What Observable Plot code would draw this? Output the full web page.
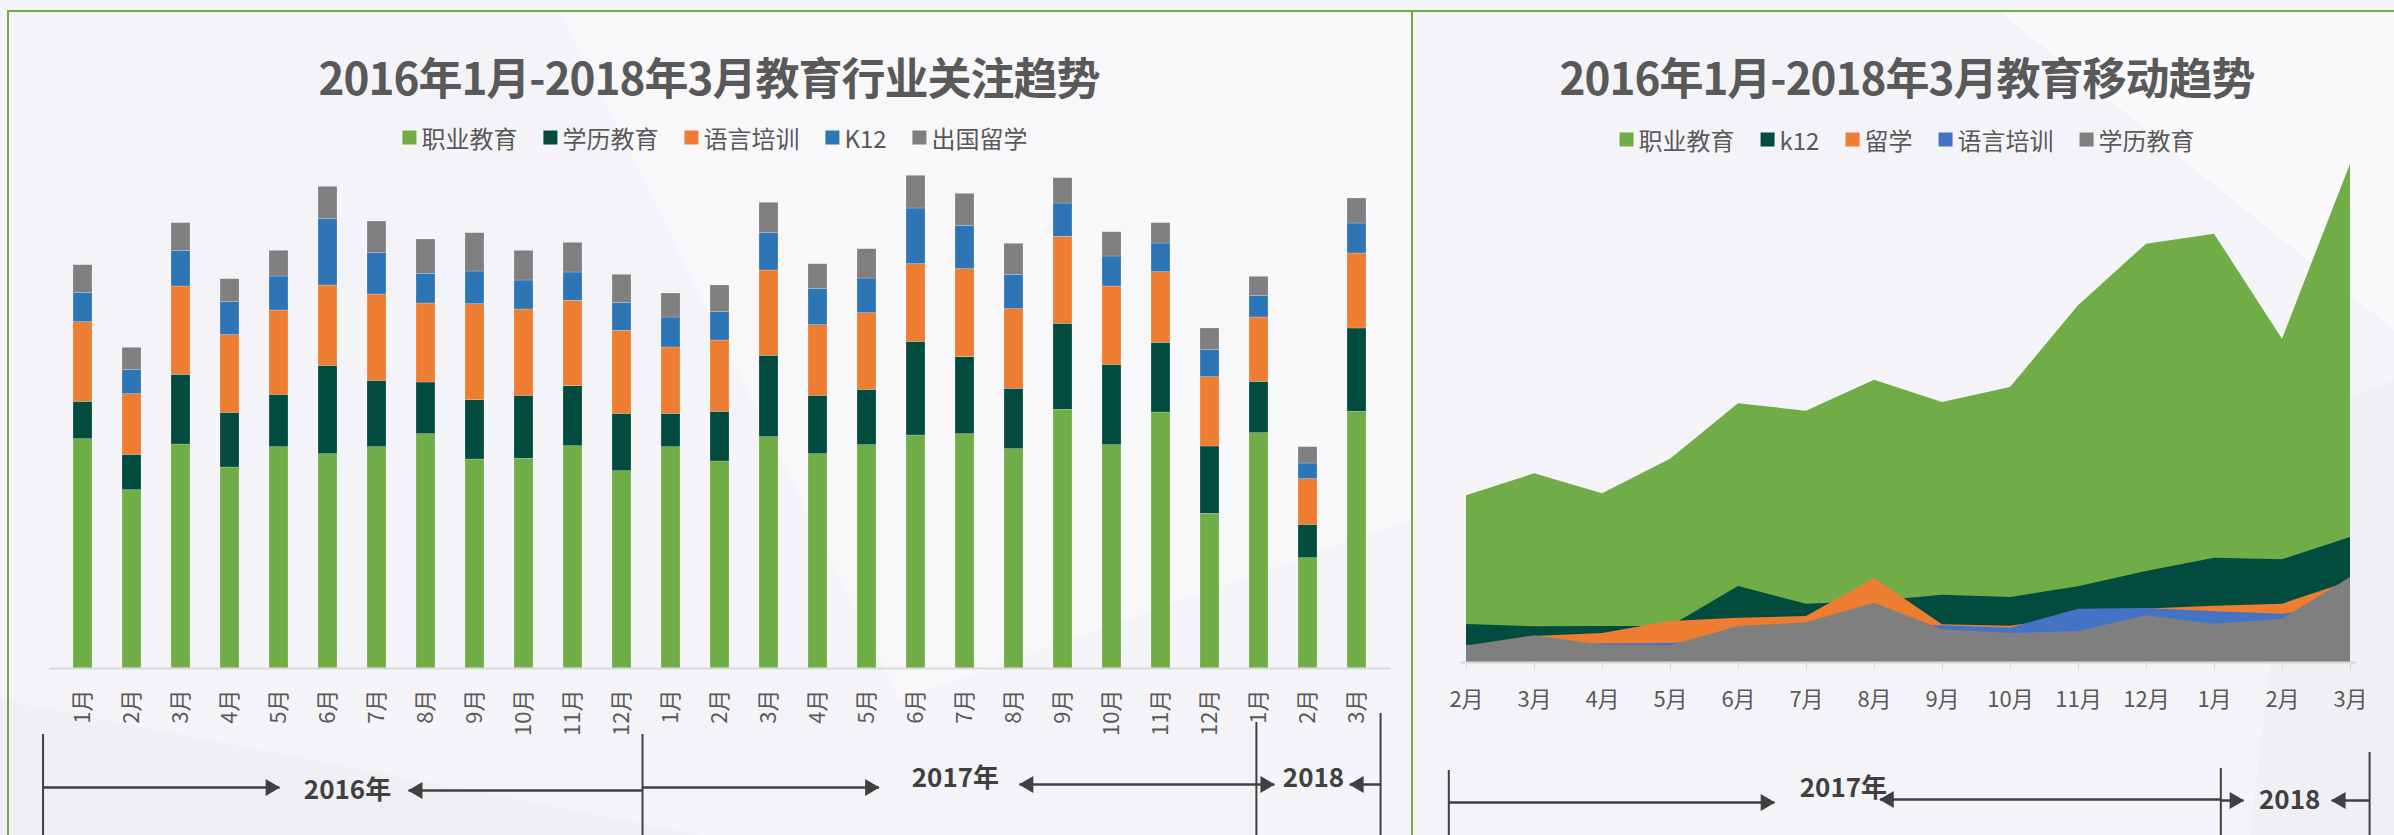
<!DOCTYPE html>
<html>
<head>
<meta charset="utf-8">
<script src="https://cdn.jsdelivr.net/npm/d3@7"></script>
<script src="https://cdn.jsdelivr.net/npm/@observablehq/plot@0.6"></script>
<style>
  html, body { margin: 0; padding: 0; }
  body { width: 2394px; height: 835px; overflow: hidden; font-family: "Noto Sans CJK SC", "Noto Sans", sans-serif; }
  #root { position: relative; width: 2394px; height: 835px; background: #f4f4f8; overflow: hidden; }
  .abs { position: absolute; }
  .title { position: absolute; transform: translate(-50%, -50%); font-size: 44px; font-weight: 700; color: #595959; white-space: nowrap; letter-spacing: -1px; }
  .legend { position: absolute; transform: translate(-50%, -50%); display: flex; align-items: center; gap: 26px; font-size: 24px; color: #595959; white-space: nowrap; }
  .legend .item { display: flex; align-items: center; }
  .legend .sw { width: 14px; height: 14px; margin-right: 5px; }
  .border-top { position: absolute; left: 7px; top: 10px; width: 2387px; height: 2px; background: #70ad47; }
  .border-v { position: absolute; top: 10px; width: 2px; height: 825px; background: #70ad47; }
</style>
</head>
<body>
<div id="root">
  <svg class="abs" style="left:0;top:0" width="2394" height="835">
    <polygon points="560,12 1410,12 1410,520 900,700" fill="#ffffff" opacity="0.35"></polygon>
    <polygon points="0,700 700,835 0,835" fill="#e9e9ef" opacity="0.5"></polygon>
    <polygon points="2000,12 2394,12 2394,330" fill="#ffffff" opacity="0.5"></polygon>
    <polygon points="2300,420 2394,380 2394,835 2250,835" fill="#e9e9ef" opacity="0.45"></polygon>
  </svg>
  <div class="border-top"></div>
  <div class="border-v" style="left:7px"></div>
  <div class="border-v" style="left:1411px"></div>
  <div class="title" style="left:709px;top:76px">2016年1月-2018年3月教育行业关注趋势</div>
  <div class="legend" id="legL" style="left:715px;top:137px"></div>
  <div class="title" style="left:1907px;top:76px">2016年1月-2018年3月教育移动趋势</div>
  <div class="legend" id="legR" style="left:1907px;top:139px"></div>
  <div class="abs" id="barChart" style="left:0;top:160px"></div>
  <div class="abs" id="barNote" style="left:0;top:700px"></div>
  <div class="abs" id="areaChart" style="left:1412px;top:150px"></div>
  <div class="abs" id="areaNote" style="left:1412px;top:750px"></div>
</div>
<script>
// ---------------- Left chart data (stacked bars) ----------------
const barKeys = ["2016-01","2016-02","2016-03","2016-04","2016-05","2016-06","2016-07","2016-08","2016-09","2016-10","2016-11","2016-12",
                 "2017-01","2017-02","2017-03","2017-04","2017-05","2017-06","2017-07","2017-08","2017-09","2017-10","2017-11","2017-12",
                 "2018-01","2018-02","2018-03"];
const barLabels = ["1月","2月","3月","4月","5月","6月","7月","8月","9月","10月","11月","12月",
                   "1月","2月","3月","4月","5月","6月","7月","8月","9月","10月","11月","12月",
                   "1月","2月","3月"];
const barSeries = ["职业教育", "学历教育", "语言培训", "K12", "出国留学"];
const barColors = ["#70ad47", "#014c3f", "#ed7d31", "#2e75b6", "#7f7f7f"];
const barVocational = [229.3,178.3,224,201,221.3,214.3,221.3,234.3,209,209.7,222.3,197.3,221.3,207,231.3,214.3,223.3,233,234.3,219.3,258.7,223.3,256,154.7,235.3,110.3,256.7];
const barDegree     = [37.4,35.4,69.7,54.7,52.4,88.4,66.4,51.7,59.3,63,60,57.4,33.4,49.7,81.4,58.4,55.4,93.7,77,60.4,86,80.4,69.7,67.3,51.4,33.4,83.3];
const barLanguage   = [79.6,60.6,88.3,77.6,84.3,80.3,86.3,79,96,86.3,85.4,83,66.3,71.3,85.3,70.6,76.6,77.6,88,79.6,87,78.3,70.6,69.3,64.3,45.6,75];
const barK12        = [29.4,24.4,35.7,33.4,34,66.7,41.7,29.7,32.7,29,28.3,28,30,28.7,37.3,36,34.7,55.7,43.4,34.4,33.3,30,28.7,27.4,21.7,15.7,30];
const barAbroad     = [27.6,22,27.6,22.6,25.7,32,31.3,34.3,38.3,29.7,29.7,28,24,26.3,30.4,25,29.3,32.7,32,31,25.3,24.3,20.3,21.3,19,16.3,25];

// ---------------- Right chart data (overlapping areas) ----------------
const areaKeys = ["2017-02","2017-03","2017-04","2017-05","2017-06","2017-07","2017-08","2017-09","2017-10","2017-11","2017-12","2018-01","2018-02","2018-03"];
const areaLabels = ["2月","3月","4月","5月","6月","7月","8月","9月","10月","11月","12月","1月","2月","3月"];
const areaSeries = ["职业教育", "k12", "留学", "语言培训", "学历教育"];
const areaColors = ["#70ad47", "#014c3f", "#ed7d31", "#4472c4", "#7f7f7f"];
const areaVocational = [166.7,188.7,168.7,203.3,258.7,251.3,282.3,260,275,356.7,418.3,428.3,323.3,498.3];
const areaK12        = [38,35.7,36,36,76,58.3,61,67.3,65,75.7,91,104.3,102.7,125];
const areaAbroad     = [12,26,29,41,44.3,46,84,37.7,36.3,46,53.5,56.3,58.3,81];
const areaLanguage   = [17.3,17,18.5,19,22,26,36,36.7,34.3,53.3,54,50.7,48.3,57];
const areaDegree     = [16.5,26.7,17.3,16.7,36,39.7,59.3,32.7,29,31,46.7,38.3,43.3,85];

// ---------------- Year brackets (month-index units) ----------------
const leftYearLines = [{x: -0.63, y1: 34}, {x: 11.44, y1: 34}, {x: 23.8, y1: 22}, {x: 26.3, y1: 13}];
const leftArrows = [
  {from: -0.63, to: 4.13, y: 87}, {from: 11.44, to: 6.73, y: 90},
  {from: 11.44, to: 16.2, y: 87}, {from: 23.8, to: 19.03, y: 84},
  {from: 23.8, to: 24.16, y: 84}, {from: 26.3, to: 25.68, y: 84}];
const leftYears = [{x: 5.5, y: 90, t: "2016年"}, {x: 17.74, y: 78, t: "2017年"}, {x: 24.95, y: 78, t: "2018"}];

const rightYearLines = [{x: -0.18, y1: 20}, {x: 11.03, y1: 18}, {x: 13.19, y1: 2}];
const rightArrows = [
  {from: -0.18, to: 4.55, y: 52}, {from: 11.03, to: 6.08, y: 49},
  {from: 11.03, to: 11.36, y: 50}, {from: 13.19, to: 12.64, y: 50}];
const rightYears = [{x: 5.55, y: 38, t: "2017年"}, {x: 12.03, y: 50, t: "2018"}];

// ---------------- Build rows ----------------
const barRows = [];
[barVocational, barDegree, barLanguage, barK12, barAbroad].forEach((arr, si) =>
  arr.forEach((v, i) => barRows.push({key: barKeys[i], s: barSeries[si], v})));
const areaRows = [];
[areaVocational, areaK12, areaAbroad, areaLanguage, areaDegree].forEach((arr, si) =>
  arr.forEach((v, i) => areaRows.push({key: areaKeys[i], s: areaSeries[si], v})));

const FONT = "'Noto Sans CJK SC', 'Noto Sans', sans-serif";
const baseStyle = {background: "transparent", fontFamily: FONT, fontSize: "22px", color: "#595959", overflow: "visible"};

// legends
function legend(el, names, colors) {
  names.forEach((n, i) => {
    const it = document.createElement("div");
    it.className = "item";
    it.innerHTML = `<span class="sw" style="background:${colors[i]}"></span><span>${n}</span>`;
    el.appendChild(it);
  });
}
legend(document.getElementById("legL"), barSeries, barColors);
legend(document.getElementById("legR"), areaSeries, areaColors);

// ---------------- Left bar chart ----------------
const barChart = Plot.plot({
  width: 1412, height: 675,
  marginTop: 0, marginBottom: 167, marginLeft: 49, marginRight: 22,
  style: baseStyle,
  x: {domain: barKeys, paddingInner: 0.61, paddingOuter: 0.305},
  y: {domain: [0, 508], axis: null},
  color: {domain: barSeries, range: barColors},
  marks: [
    Plot.barY(barRows, {x: "key", y: "v", fill: "s", stroke: "#ffffff", strokeOpacity: 0.35, strokeWidth: 0.6}),
    Plot.ruleY([0], {stroke: "#d9d9d9", strokeWidth: 2}),
    Plot.axisX({tickRotate: -90, tickSize: 0, tickPadding: 21, fill: "#595959", fontSize: 22,
                tickFormat: d => barLabels[barKeys.indexOf(d)], label: null})
  ]
});
document.getElementById("barChart").appendChild(barChart);

function bracketPlot(width, height, ml, mr, xDomain, lines, arrows, years) {
  const rightA = arrows.filter(d => d.to > d.from);
  const leftA = arrows.filter(d => d.to < d.from);
  return Plot.plot({
    width, height, marginTop: 0, marginBottom: 0, marginLeft: ml, marginRight: mr,
    style: baseStyle,
    x: {domain: xDomain, axis: null},
    y: {domain: [0, height], range: [0, height], axis: null},
    marks: [
      Plot.ruleX(lines, {x: "x", y1: "y1", y2: height, stroke: "#404040", strokeWidth: 2}),
      Plot.link(arrows, {x1: "from", x2: "to", y1: "y", y2: "y", stroke: "#404040", strokeWidth: 2.5}),
      Plot.dot(rightA, {x: "to", y: "y", symbol: "triangle2", r: 8, fill: "#404040", rotate: 90, dx: -9}),
      Plot.dot(leftA, {x: "to", y: "y", symbol: "triangle2", r: 8, fill: "#404040", rotate: -90, dx: 9}),
      Plot.text(years, {x: "x", y: "y", text: "t", fontSize: 26, fontWeight: 700, fill: "#404040"})
    ]
  });
}
document.getElementById("barNote").appendChild(
  bracketPlot(1412, 135, 49, 22, [-0.5, 26.5], leftYearLines, leftArrows, leftYears));

// ---------------- Right area chart ----------------
const areaChart = Plot.plot({
  width: 982, height: 685,
  marginTop: 0, marginBottom: 173, marginLeft: 48.7, marginRight: 38,
  style: baseStyle,
  x: {type: "point", domain: areaKeys, padding: 0},
  y: {domain: [0, 512], axis: null},
  color: {domain: areaSeries, range: areaColors},
  marks: [
    ...areaSeries.map(s => Plot.areaY(areaRows.filter(d => d.s === s), {x: "key", y1: 0, y2: "v", fill: "s"})),
    Plot.ruleY([0], {stroke: "#d9d9d9", strokeWidth: 2}),
    Plot.axisX({tickSize: 8, tickPadding: 21, stroke: "#d9d9d9", fill: "#595959", fontSize: 22,
                tickFormat: d => areaLabels[areaKeys.indexOf(d)], label: null})
  ]
});
document.getElementById("areaChart").appendChild(areaChart);

document.getElementById("areaNote").appendChild(
  bracketPlot(982, 85, 48.7, 38, [0, 13], rightYearLines, rightArrows, rightYears));
</script>
</body>
</html>
